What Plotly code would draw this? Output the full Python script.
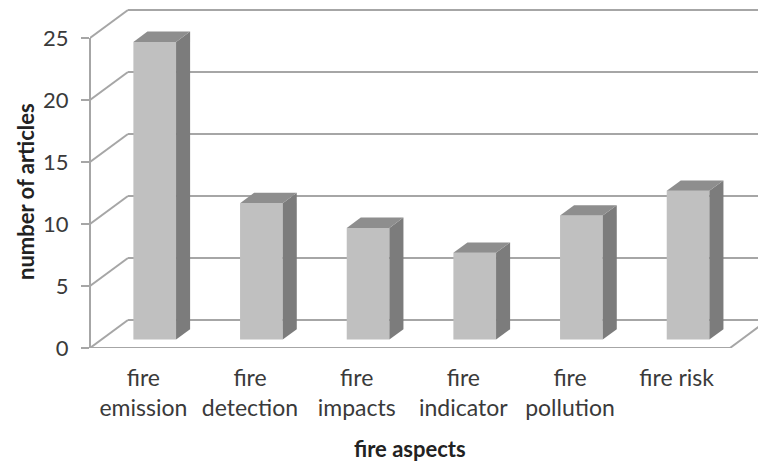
import plotly.graph_objects as go

# Articles per fire aspect
categories = ["fire<br>emission", "fire<br>detection", "fire<br>impacts",
              "fire<br>indicator", "fire<br>pollution", "fire risk"]
articles = [24, 11, 9, 7, 10, 12]
y_ticks = [0, 5, 10, 15, 20, 25]
y_max = 25

# Pseudo-3D geometry, expressed in axis units
DX = 0.356          # depth of the box along x (category units)
DY = 2.26           # depth of the box along y (value units)
F0, F1 = 0.30, 0.67  # front / back plane of the bars inside the box
BAR_W = 0.40

GRID = "#a6a6a6"
FRONT = "#c0c0c0"
SIDE = "#7c7c7c"
TOP = "#8e8e8e"
TEXT = "#3a3a3a"
FONT = "Lato"

n = len(categories)
xs = list(range(n))
x_lo, x_hi = -0.5, n - 0.5

fig = go.Figure()
shapes = []

def seg(x0, y0, x1, y1, xref="x", yref="y"):
    shapes.append(dict(type="line", xref=xref, yref=yref, x0=x0, y0=y0,
                       x1=x1, y1=y1, layer="below",
                       line=dict(color=GRID, width=2)))

# back wall gridlines and left wall diagonals
for v in y_ticks:
    seg(x_lo + DX, v + DY, x_hi + DX + 1, v + DY)
    seg(x_lo, v, x_lo + DX, v + DY)
# floor: front edge and right edge
seg(x_lo, 0, x_hi, 0)
seg(x_hi, 0, x_hi + DX, DY)
# front value axis
seg(0, 0, 0, y_max, xref="paper")

# bar front faces
fig.add_trace(go.Bar(
    x=[x + F0 * DX for x in xs], y=articles, base=[F0 * DY] * n,
    width=BAR_W, marker=dict(color=FRONT, line=dict(width=0)),
    hoverinfo="skip", showlegend=False))

# bar side and top faces
dxb, dyb = (F1 - F0) * DX, (F1 - F0) * DY
for x, v in zip(xs, articles):
    xl = x + F0 * DX - BAR_W / 2
    xr = xl + BAR_W
    b = F0 * DY
    t = v + F0 * DY
    fig.add_trace(go.Scatter(
        x=[xr, xr, xr + dxb, xr + dxb, xr], y=[b, t, t + dyb, b + dyb, b],
        fill="toself", fillcolor=SIDE, mode="lines", line=dict(width=0),
        hoverinfo="skip", showlegend=False))
    fig.add_trace(go.Scatter(
        x=[xl, xr, xr + dxb, xl + dxb, xl], y=[t, t, t + dyb, t + dyb, t],
        fill="toself", fillcolor=TOP, mode="lines", line=dict(width=0),
        hoverinfo="skip", showlegend=False))

plot_h = 348
y_top = plot_h / ((plot_h - 38) / y_max)
px_per_cat = 640 / n
x_top = x_lo + 668 / px_per_cat

fig.update_layout(
    width=758, height=461,
    margin=dict(l=90, r=0, t=0, b=113),
    paper_bgcolor="white", plot_bgcolor="white",
    font=dict(family=FONT, color=TEXT),
    shapes=shapes,
    xaxis=dict(range=[x_lo, x_top], tickmode="array", tickvals=xs,
               ticktext=categories, showgrid=False, zeroline=False,
               showline=False, ticks="", tickfont=dict(size=23, color=TEXT),
               ticklabelstandoff=14),
    yaxis=dict(range=[0, y_top], tickmode="array", tickvals=y_ticks,
               showgrid=False, zeroline=False, showline=False,
               ticks="outside", ticklen=8, tickwidth=2, tickcolor=GRID,
               tickfont=dict(size=22, color=TEXT), ticklabelstandoff=8),
    annotations=[
        dict(text="<b>fire aspects</b>", xref="paper", yref="paper",
             x=(410 - 90) / 668, y=-(448 - 348) / plot_h, showarrow=False,
             font=dict(size=22, color="#222222"), xanchor="center",
             yanchor="middle"),
        dict(text="<b>number of articles</b>", xref="paper", yref="paper",
             x=-(90 - 25) / 668, y=(348 - 192) / plot_h, showarrow=False,
             textangle=-90, font=dict(size=22, color="#222222"),
             xanchor="center", yanchor="middle"),
    ],
)

fig.write_html("out.html")
